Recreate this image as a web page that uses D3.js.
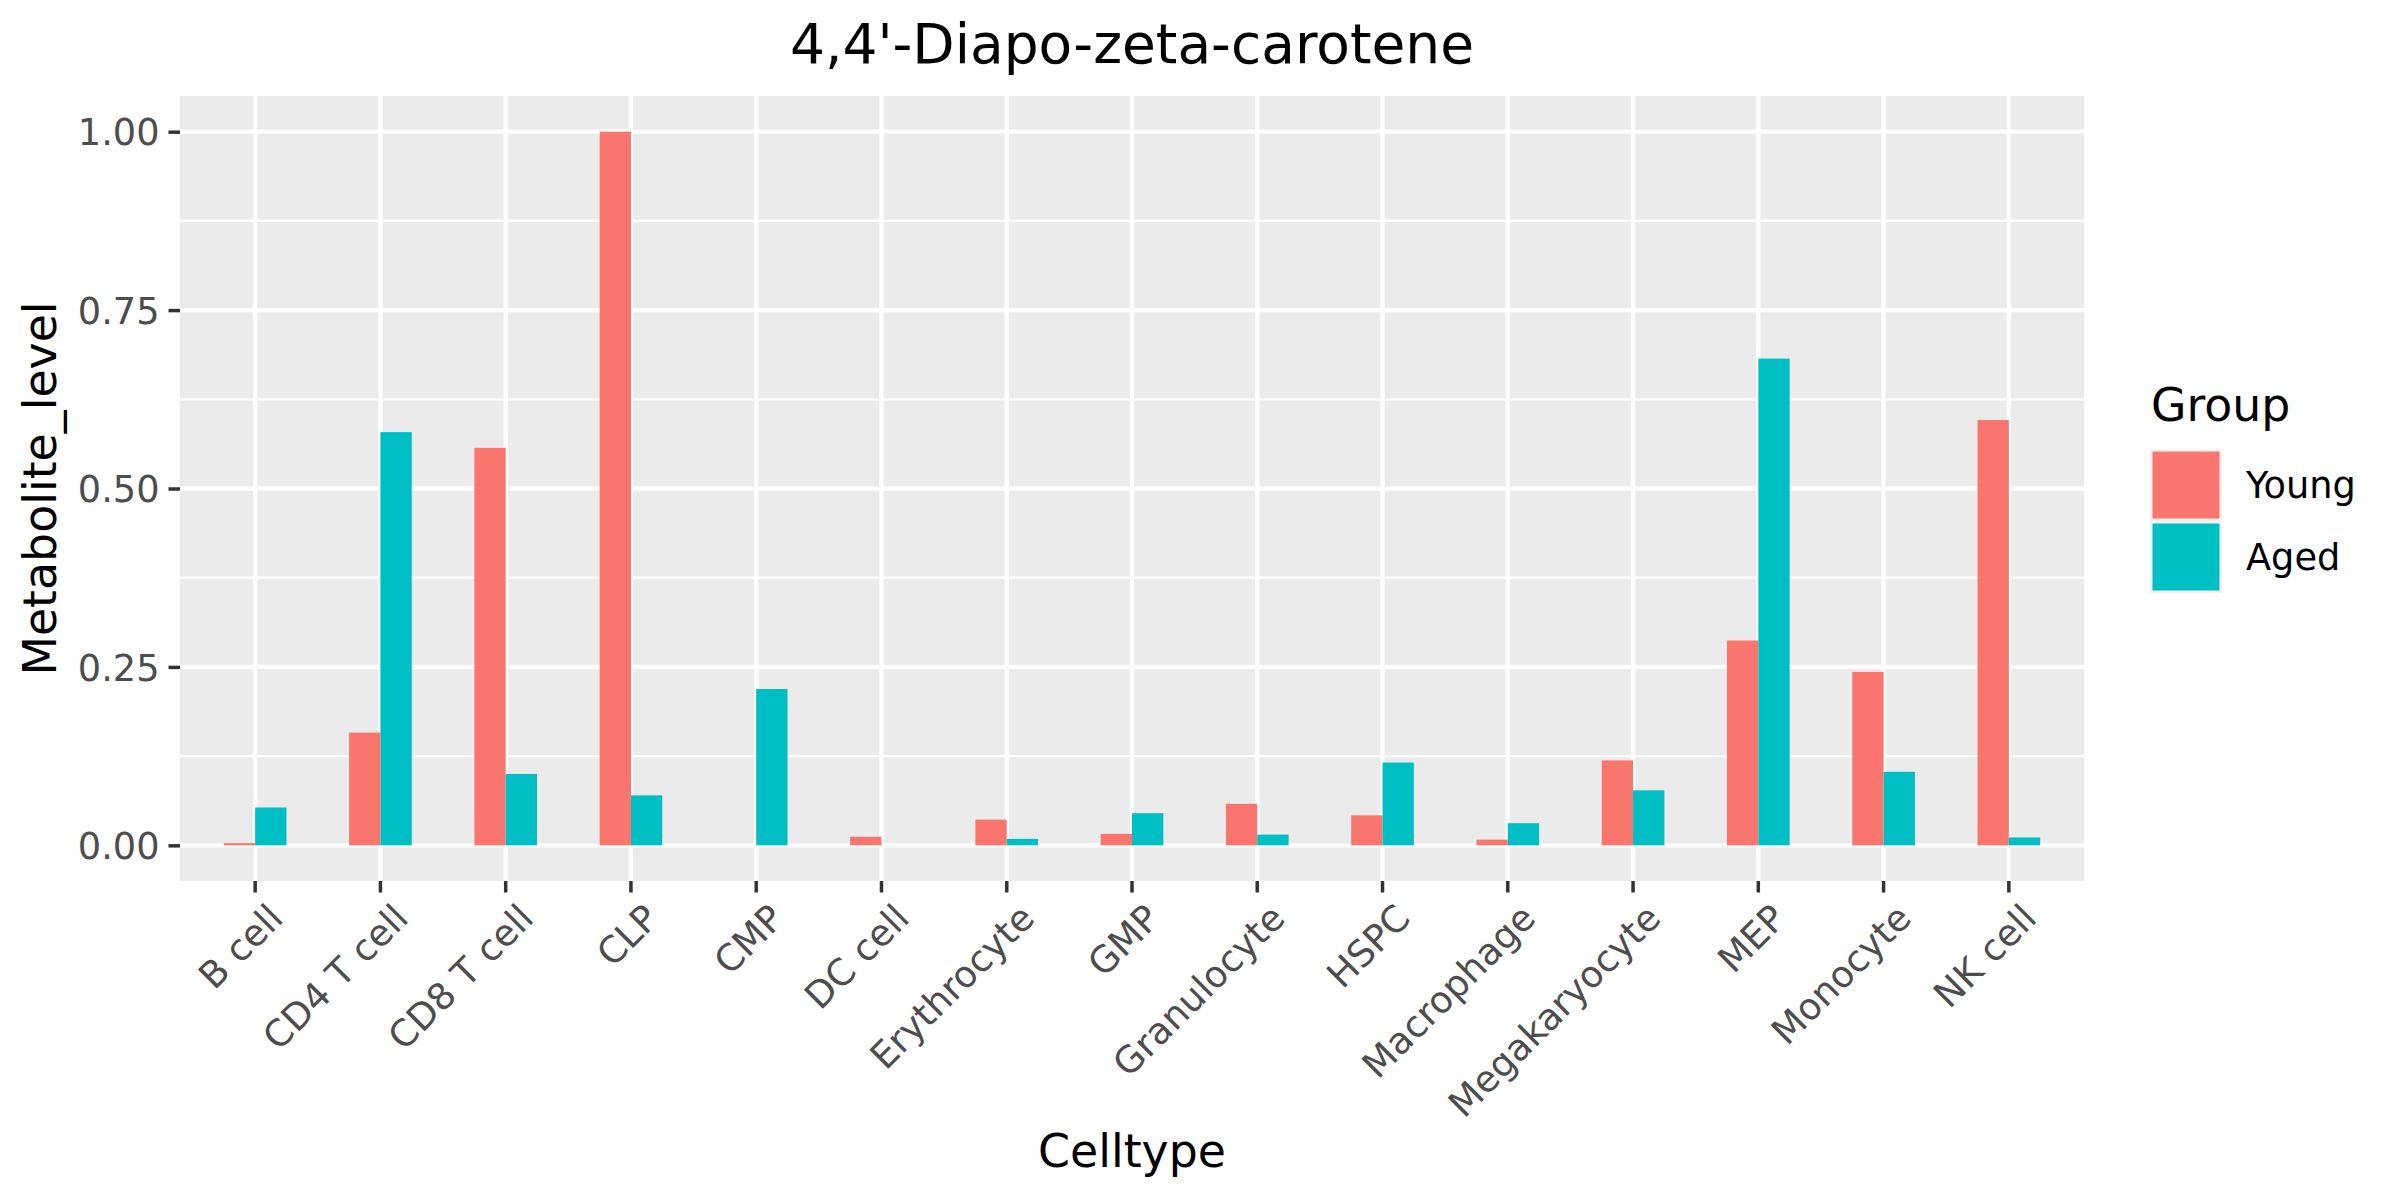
<!DOCTYPE html>
<html><head><meta charset="utf-8">
<script src="https://cdn.jsdelivr.net/npm/d3@7"></script>
<style>body{margin:0;background:#fff} text{font-family:"DejaVu Sans",sans-serif}</style>
</head><body>
<svg id="c" width="2400" height="1200"></svg>
<script>
const categories = ["B cell","CD4 T cell","CD8 T cell","CLP","CMP","DC cell","Erythrocyte","GMP","Granulocyte","HSPC","Macrophage","Megakaryocyte","MEP","Monocyte","NK cell"];
const groups = ["Young","Aged"];
const young = [0.003, 0.158, 0.557, 1.000, 0.000, 0.012, 0.036, 0.016, 0.058, 0.042, 0.008, 0.119, 0.287, 0.243, 0.596];
const aged  = [0.053, 0.579, 0.100, 0.070, 0.219, 0.000, 0.009, 0.045, 0.015, 0.116, 0.031, 0.077, 0.682, 0.103, 0.011];
const yTicks = [0, 0.25, 0.5, 0.75, 1.0];
const yMinor = [0.125, 0.375, 0.625, 0.875];
const colors = ["#F8766D", "#00BFC4"];
const titleText = "4,4'-Diapo-zeta-carotene";
const xTitle = "Celltype";
const yTitle = "Metabolite_level";
const legendTitle = "Group";

const svg = d3.select("#c");
const L = 180, R = 2084, T = 96, B = 881;

const x = d3.scaleBand().domain(categories).range([L, R]).paddingInner(0).paddingOuter(0.1);
const y = d3.scaleLinear().domain([-0.05, 1.05]).range([B, T]);
const sub = d3.scaleBand().domain(groups).range([0, x.bandwidth() * 0.5]);

// panel
svg.append("rect").attr("x", L).attr("y", T).attr("width", R - L).attr("height", B - T).attr("fill", "#EBEBEB");
const g = svg.append("g");
g.selectAll(".minor").data(yMinor).join("line")
  .attr("x1", L).attr("x2", R).attr("y1", d => y(d)).attr("y2", d => y(d))
  .attr("stroke", "#fff").attr("stroke-width", 2.2);
g.selectAll(".majy").data(yTicks).join("line")
  .attr("x1", L).attr("x2", R).attr("y1", d => y(d)).attr("y2", d => y(d))
  .attr("stroke", "#fff").attr("stroke-width", 4.3);
g.selectAll(".majx").data(categories).join("line")
  .attr("x1", d => x(d) + x.bandwidth() / 2).attr("x2", d => x(d) + x.bandwidth() / 2)
  .attr("y1", T).attr("y2", B)
  .attr("stroke", "#fff").attr("stroke-width", 4.3);

// bars
const series = [young, aged];
groups.forEach((grp, gi) => {
  svg.append("g").selectAll("rect").data(categories).join("rect")
    .attr("x", (d) => x(d) + x.bandwidth() * 0.25 + sub(grp))
    .attr("width", sub.bandwidth())
    .attr("y", (d, i) => y(series[gi][i]))
    .attr("height", (d, i) => y(0) - y(series[gi][i]))
    .attr("fill", colors[gi]);
});

// y axis
const ya = svg.append("g").attr("transform", `translate(${L},0)`)
  .call(d3.axisLeft(y).tickValues(yTicks).tickFormat(d3.format(".2f")).tickSize(11.5).tickPadding(9));
ya.select(".domain").remove();
ya.selectAll(".tick line").attr("stroke", "#333333").attr("stroke-width", 3.5);
ya.selectAll(".tick text").attr("fill", "#4D4D4D").style("font-size", "36.7px").attr("font-family", "DejaVu Sans").attr("dy", "0.36em");

// x axis
const xa = svg.append("g").attr("transform", `translate(0,${B})`)
  .call(d3.axisBottom(x).tickSize(11.5).tickPadding(0));
xa.select(".domain").remove();
xa.selectAll(".tick line").attr("stroke", "#333333").attr("stroke-width", 3.5);
xa.selectAll(".tick text")
  .attr("fill", "#4D4D4D").style("font-size", "36.7px").attr("font-family", "DejaVu Sans")
  .attr("text-anchor", "end")
  .attr("transform", "translate(0,21) rotate(-45)")
  .attr("x", 8).attr("y", 34).attr("dy", null);

// titles
svg.append("text").attr("x", (L + R) / 2).attr("y", 63).attr("text-anchor", "middle")
  .style("font-size", "55px").attr("fill", "#000").text(titleText);
svg.append("text").attr("x", (L + R) / 2).attr("y", 1167).attr("text-anchor", "middle")
  .style("font-size", "45.8px").attr("fill", "#000").text(xTitle);
svg.append("text").attr("transform", `translate(56,${(T + B) / 2}) rotate(-90)`).attr("text-anchor", "middle")
  .style("font-size", "45.8px").attr("fill", "#000").text(yTitle);

// legend
svg.append("text").attr("x", 2151).attr("y", 421).style("font-size", "45.8px").attr("fill", "#000").text(legendTitle);
const lg = svg.append("g").selectAll("g").data(groups).join("g")
  .attr("transform", (d, i) => `translate(2150,${449 + i * 72})`);
lg.append("rect").attr("width", 72).attr("height", 72).attr("fill", "#F2F2F2");
lg.append("rect").attr("x", 2.5).attr("y", 2.5).attr("width", 67).attr("height", 67).attr("fill", (d, i) => colors[i]);
lg.append("text").attr("x", 96).attr("y", 36).attr("dy", "0.36em")
  .style("font-size", "36.7px").attr("fill", "#000").text(d => d);
</script>
</body></html>
